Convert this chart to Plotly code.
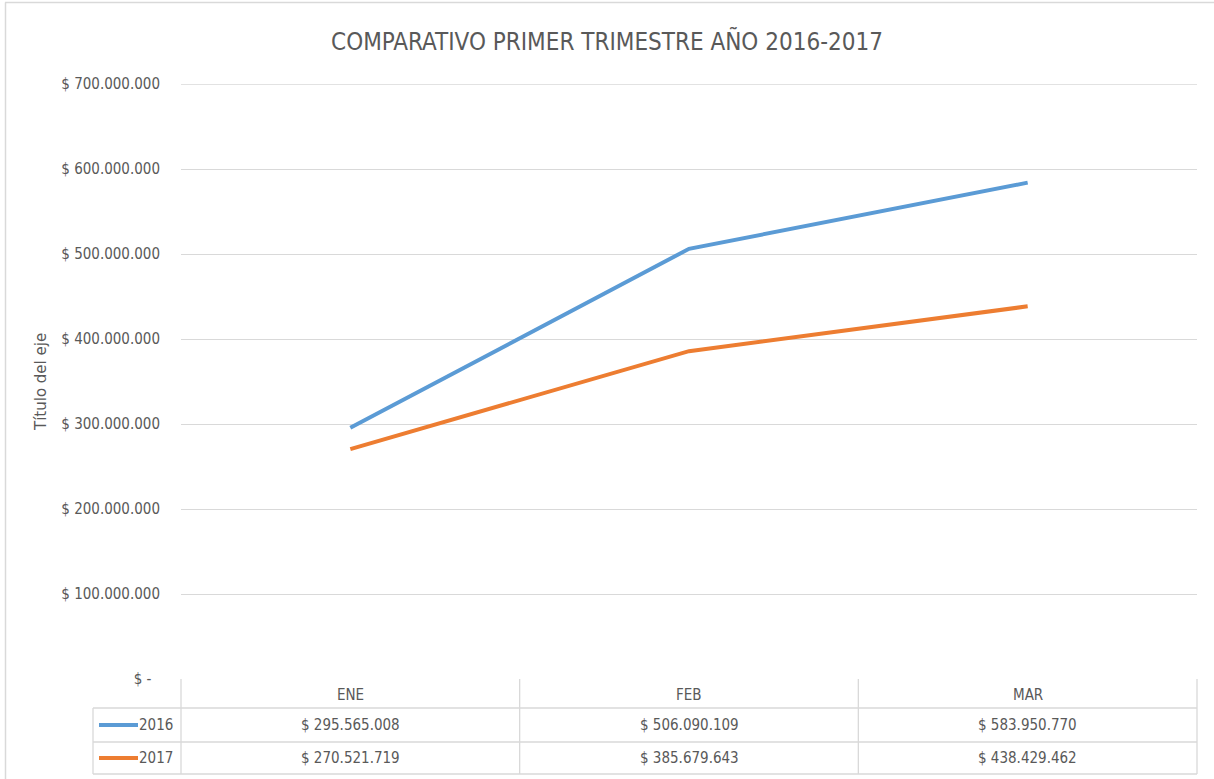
import plotly.graph_objects as go

# ---- data ----
categories = ["ENE", "FEB", "MAR"]
series_names = ["2016", "2017"]
values_2016 = [295565008, 506090109, 583950770]
values_2017 = [270521719, 385679643, 438429462]
y_ticks = [0, 100000000, 200000000, 300000000, 400000000, 500000000, 600000000, 700000000]
title_text = "COMPARATIVO PRIMER TRIMESTRE AÑO 2016-2017"
y_title = "Título del eje"

colors = ["#5B9BD5", "#ED7D31"]
series_values = [values_2016, values_2017]

W, H = 1214, 779
L, R, T, B = 181, 17, 84, 100
PW, PH = W - L - R, H - T - B
FONT = "Liberation Sans Narrow, DejaVu Sans Condensed, sans-serif"
TXT = "#595959"
GRID = "#d9d9d9"


def px(p):
    return (p - L) / PW


def py(p):
    return (H - B - p) / PH


def money(v):
    if v == 0:
        return "$ -\u00a0\u00a0"
    return "$ " + f"{v:,}".replace(",", ".")


fig = go.Figure()
for name, vals, col in zip(series_names, series_values, colors):
    fig.add_trace(go.Scatter(
        x=list(range(len(categories))), y=vals, mode="lines", name=name,
        line=dict(color=col, width=4), showlegend=False, hoverinfo="skip",
    ))

n = len(categories)
shapes = []
annotations = []
line_style = dict(color=GRID, width=1.3)

# outer chart border (top and left)
shapes.append(dict(type="line", xref="paper", yref="paper", x0=px(5), x1=px(W + 5),
                   y0=py(2.5), y1=py(2.5), line=dict(color=GRID, width=1.5)))
shapes.append(dict(type="line", xref="paper", yref="paper", x0=px(5.5), x1=px(5.5),
                   y0=py(2.5), y1=py(H + 5), line=dict(color=GRID, width=1.5)))

# top gridline (at range edge)
shapes.append(dict(type="line", xref="paper", yref="y", x0=0, x1=1,
                   y0=y_ticks[-1], y1=y_ticks[-1], line=line_style))

# data table grid
top, hdr, r1, r2 = 679, 708, 742, 774
left_col = 93
for i in range(n + 1):
    shapes.append(dict(type="line", xref="paper", yref="paper", x0=i / n, x1=i / n,
                       y0=py(top), y1=py(r2), line=line_style))
shapes.append(dict(type="line", xref="paper", yref="paper", x0=px(left_col), x1=px(left_col),
                   y0=py(hdr), y1=py(r2), line=line_style))
for yy in (hdr, r1, r2):
    shapes.append(dict(type="line", xref="paper", yref="paper", x0=px(left_col), x1=1,
                       y0=py(yy), y1=py(yy), line=line_style))

tfont = dict(family=FONT, size=15, color=TXT)
# header
for i, c in enumerate(categories):
    annotations.append(dict(x=(i + 0.5) / n, y=py((top + hdr) / 2 + 1), xref="paper", yref="paper",
                            text=c, showarrow=False, font=tfont, xanchor="center", yanchor="middle"))
# rows
rows_mid = [(hdr + r1) / 2, (r1 + r2) / 2]
for name, vals, col, ym in zip(series_names, series_values, colors, rows_mid):
    shapes.append(dict(type="line", xref="paper", yref="paper", x0=px(99), x1=px(138),
                       y0=py(ym), y1=py(ym), line=dict(color=col, width=4)))
    annotations.append(dict(x=px(175), y=py(ym), xref="paper", yref="paper", text=name,
                            showarrow=False, font=tfont, xanchor="right", yanchor="middle"))
    for i, v in enumerate(vals):
        annotations.append(dict(x=(i + 0.5) / n, y=py(ym), xref="paper", yref="paper",
                                text=money(v), showarrow=False, font=tfont,
                                xanchor="center", yanchor="middle"))

# y-axis title
annotations.append(dict(x=px(41), y=py(382), xref="paper", yref="paper", text=y_title, textangle=-90,
                        showarrow=False, font=dict(family="DejaVu Sans, sans-serif", size=15, color=TXT),
                        xanchor="center", yanchor="middle"))

fig.update_layout(
    width=W, height=H,
    margin=dict(l=L, r=R, t=T, b=B, pad=0),
    paper_bgcolor="white", plot_bgcolor="white",
    title=dict(text=title_text, x=0.5, xref="container", xanchor="center",
               y=1 - 42 / H, yref="container", yanchor="middle",
               font=dict(family=FONT, size=24, color=TXT)),
    xaxis=dict(range=[-0.5, n - 0.5], showgrid=False, zeroline=False, showline=False,
               showticklabels=False, ticks=""),
    yaxis=dict(range=[0, y_ticks[-1]], tickvals=y_ticks, ticktext=[money(v) for v in y_ticks],
               showgrid=True, gridcolor=GRID, gridwidth=1.3, zeroline=False, showline=False,
               ticks="", ticklabelstandoff=20, tickfont=dict(family=FONT, size=15, color=TXT)),
    shapes=shapes, annotations=annotations,
)

fig.write_html(
    "out.html",
    config={"displayModeBar": False},
    post_script="document.body.style.margin='0px';document.body.style.overflow='hidden';",
)
